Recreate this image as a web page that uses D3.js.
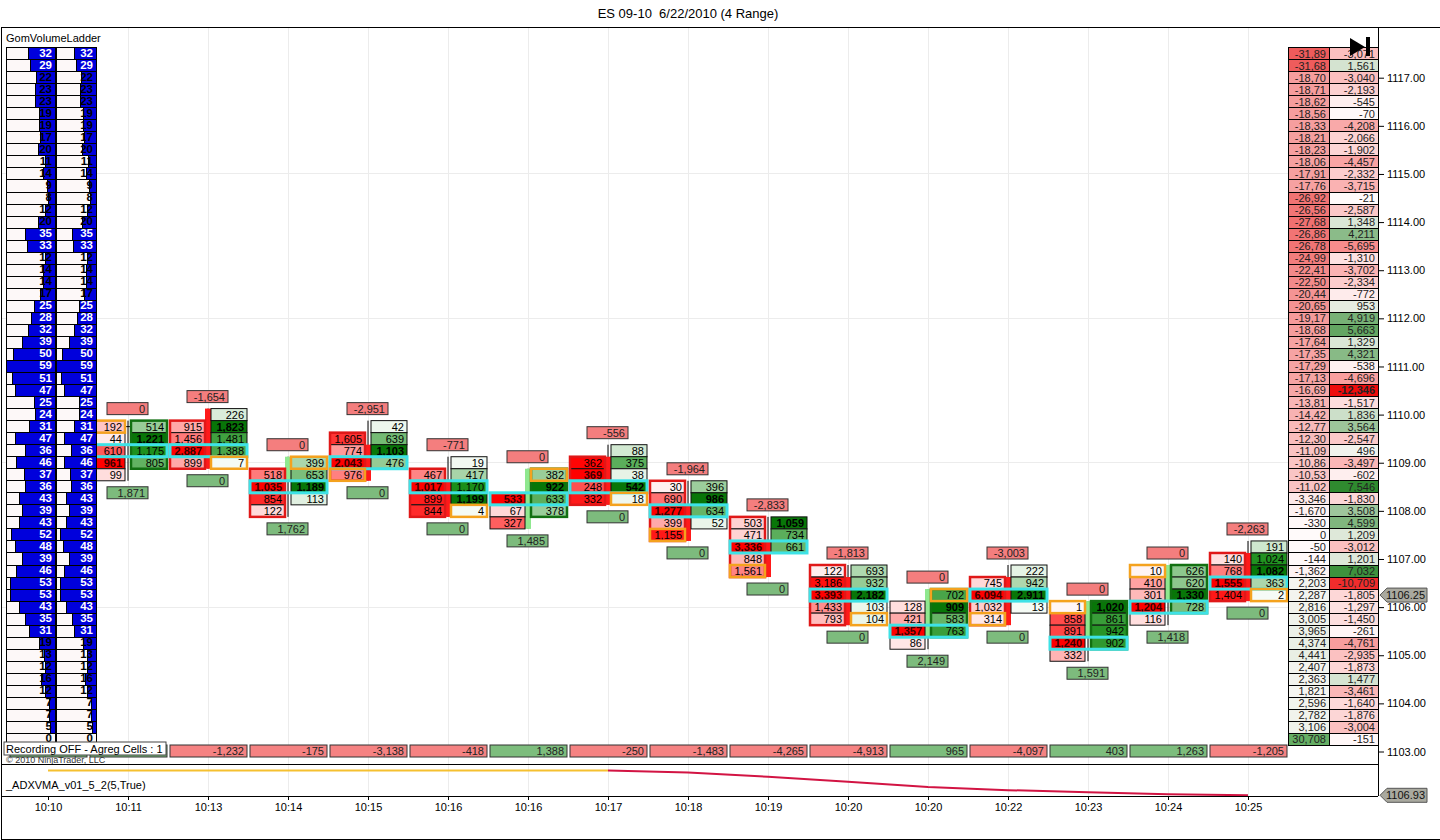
<!DOCTYPE html>
<html>
<head>
<meta charset="utf-8">
<script src="https://cdn.jsdelivr.net/npm/d3@7"></script>
<style>
  body { margin: 0; background: #fff; }
  svg { display: block; font-family: "Liberation Sans", Arial, sans-serif; }
  .axis text { font-size: 11px; fill: #000; font-family: "Liberation Sans", Arial, sans-serif; }
  .axis line { stroke: #000; }
</style>
</head>
<body>
<div id="chart"></div>
<script>
// ---- data ----
var timeLabels = ["10:10","10:11","10:13","10:14","10:15","10:16","10:16","10:17","10:18","10:19","10:20","10:20","10:22","10:23","10:24","10:25"];

// footprint bars: price of the first row, then bid / ask volume per row (0.25 steps down)
// bar 0 sits under the volume ladder, so it has no cells
var barTop = [null,1109.75,1110.00,1109.00,1109.75,1109.00,1108.75,1109.25,1108.50,1107.75,1106.75,1106.25,1106.75,1106.00,1106.75,1107.25];
var bidVol = [
  null,
  [192,44,610,961,99],
  [null,915,1456,2887,899],
  [null,518,1035,854,122],
  [null,1605,774,2043,976],
  [null,467,1017,899,844],
  [null,null,533,67,327],
  [null,362,369,248,332],
  [30,690,1277,399,1155],
  [503,471,3336,848,1561],
  [122,3186,3393,1433,793],
  [null,128,421,1357,86],
  [null,745,6094,1032,314],
  [1,858,891,1240,332],
  [10,410,301,1204,116],
  [null,140,768,1555,1404]
];
var askVol = [
  null,
  [514,1221,1175,805,null],
  [226,1823,1481,1388,7],
  [399,653,1189,113,null],
  [42,639,1103,476,null],
  [19,417,1170,1199,4],
  [382,922,633,378,null],
  [88,375,38,542,18],
  [396,986,634,52,null],
  [1059,734,661,null,null],
  [693,932,2182,103,104],
  [702,909,583,763,null],
  [222,942,2911,13,null],
  [1020,861,942,902,null],
  [626,620,1330,728,null],
  [191,1024,1082,363,2]
];
var openPx  = [null,1109.75,1110.00,1108.75,1109.25,1108.50,1107.75,1109.00,1108.00,1107.25,1106.50,1105.50,1106.50,1105.50,1106.25,1107.00];
var closePx = [null,1109.75,1109.00,1109.00,1108.75,1108.00,1108.75,1108.25,1107.50,1106.75,1105.75,1106.25,1105.75,1106.00,1106.75,1106.25];
var closeSide = [null,"bid","ask","ask","bid","ask","ask","ask","bid","bid","ask","ask","bid","bid","bid","ask"];
var deltaTop  = [null,0,-1654,0,-2951,-771,0,-556,-1964,-2833,-1813,0,-3003,0,0,-2263];
var volBottom = [null,1871,0,1762,0,0,1485,0,0,0,0,2149,0,1591,1418,0];
var barDelta  = [1150,1809,-1232,-175,-3138,-418,1388,-250,-1483,-4265,-4913,965,-4097,403,1263,-1205];

// lower panel
var adxvma = [1108.81,1108.81,1108.81,1108.81,1108.81,1108.81,1108.81,1108.81,1108.65,1108.34,1107.95,1107.56,1107.32,1107.16,1107.01,1106.93];

// volume ladders, one row per tick from 1117.50 down to 1103.25
var ladderTop = 1117.50;
var ladderVol = [32,29,22,23,23,19,19,17,20,11,14,9,8,12,20,35,33,12,14,14,17,25,28,32,39,50,59,51,47,25,24,31,47,36,46,37,36,43,39,43,52,48,39,46,53,53,43,35,31,19,13,12,16,12,7,7,5,0];
var ladderCum = ["-31,89","-31,68","-18,70","-18,71","-18,62","-18,56","-18,33","-18,21","-18,23","-18,06","-17,91","-17,76","-26,92","-26,56","-27,68","-26,86","-26,78","-24,99","-22,41","-22,50","-20,44","-20,65","-19,17","-18,68","-17,64","-17,35","-17,29","-17,13","-16,69","-13,81","-14,42","-12,77","-12,30","-11,09","-10,86","-10,53","-11,02","-3,346","-1,670","-330","0","-50","-144","-1,362","2,203","2,287","2,816","3,005","3,965","4,374","4,441","2,407","2,363","1,821","2,596","2,782","3,106","30,708"];
var ladderDelta = [-3071,1561,-3040,-2193,-545,-70,-4208,-2066,-1902,-4457,-2332,-3715,-21,-2587,1348,4211,-5695,-1310,-3702,-2334,-772,953,4919,5663,1329,4321,-538,-4696,-12346,-1517,1836,3564,-2547,496,-3497,-602,7546,-1830,3508,4599,1209,-3012,1201,7032,-10709,-1805,-1297,-1450,-261,-4761,-2935,-1873,1477,-3461,-1640,-1876,-3004,-151];

var lastPrice = 1106.25;
var lastAdx = 1106.93;

// ---- setup ----
var width = 1440, height = 840;
var svg = d3.select("#chart").append("svg")
    .attr("width", width)
    .attr("height", height);

var fmt = d3.formatLocale({decimal: ".", thousands: ",", grouping: [3], currency: ["", ""], minus: "-"}).format(",");

var x = d3.scaleLinear().domain([0, 15]).range([48, 1248]);
var y = d3.scaleLinear().domain([1103, 1117]).range([751.5, 77.7]);
var yA = d3.scaleLinear().domain([lastAdx, 1108.81]).range([795.3, 770.5]);
var rowH = y(1103) - y(1103.25);
var plotRight = 1378;

var rowTop = p => y(p) - rowH / 2;
var ladderPrice = i => ladderTop - i * 0.25;

// title
svg.append("text")
    .attr("x", 688).attr("y", 18)
    .attr("text-anchor", "middle")
    .style("font-size", "13px")
    .style("white-space", "pre")
    .text("ES 09-10  6/22/2010 (4 Range)");

// grid
var grid = svg.append("g").attr("stroke", "#ececec").attr("shape-rendering", "crispEdges");
grid.selectAll("line.v")
  .data(d3.range(1, 16))
  .enter().append("line")
    .attr("x1", d => x(d)).attr("x2", d => x(d))
    .attr("y1", 28).attr("y2", 796);
grid.selectAll("line.h")
  .data([1115, 1112, 1109, 1106])
  .enter().append("line")
    .attr("x1", 2).attr("x2", plotRight)
    .attr("y1", d => y(d)).attr("y2", d => y(d));

// ---- footprint ----
var redFill = d3.interpolateRgb("#fff6f6", "#ff0000");
var greenFill = d3.interpolateRgb("#f6fbf6", "#168c16");

var fp = svg.append("g");
d3.range(1, 16).forEach(function(b) {
  var cx = x(b);
  var bids = bidVol[b], asks = askVol[b];
  var n = Math.max(bids.length, asks.length);
  var low = barTop[b] - (n - 1) * 0.25;
  var g = fp.append("g");

  // wick + body between the two columns
  g.append("line")
      .attr("x1", cx).attr("x2", cx)
      .attr("y1", rowTop(barTop[b])).attr("y2", rowTop(low) + rowH)
      .attr("stroke", "#000");
  var up = closePx[b] >= openPx[b];
  var hi = Math.max(openPx[b], closePx[b]), lo = Math.min(openPx[b], closePx[b]);
  if (hi > lo) {
    g.append("rect")
        .attr("x", cx - 3).attr("width", 6)
        .attr("y", rowTop(hi)).attr("height", rowTop(lo) + rowH - rowTop(hi))
        .attr("fill", up ? "#8fe88f" : "#ff1a1a");
  } else {
    g.append("line")
        .attr("x1", cx - 3).attr("x2", cx + 3)
        .attr("y1", y(hi)).attr("y2", y(hi))
        .attr("stroke", "#000");
  }

  var maxBid = d3.max(bids), maxAsk = d3.max(asks);
  var cells = [];
  for (var j = 0; j < n; j++) {
    var p = barTop[b] - j * 0.25;
    if (bids[j] != null) cells.push({p: p, v: bids[j], side: "bid", max: maxBid});
    if (asks[j] != null) cells.push({p: p, v: asks[j], side: "ask", max: maxAsk});
  }
  var colX = s => s === "bid" ? cx - 38 : cx + 3;
  var colW = s => s === "bid" ? 35 : 36;

  g.selectAll("rect.cell")
    .data(cells)
    .enter().append("rect")
      .attr("x", d => colX(d.side)).attr("width", d => colW(d.side))
      .attr("y", d => rowTop(d.p)).attr("height", rowH)
      .attr("fill", d => d.side === "bid" ? redFill(d.v / d.max)
                          : (d.v === d.max ? "#087608" : greenFill(d.v / d.max)))
      .attr("stroke", "#111").attr("stroke-width", 1);
  g.selectAll("text.cell")
    .data(cells)
    .enter().append("text")
      .attr("x", d => colX(d.side) + colW(d.side) - 3)
      .attr("y", d => y(d.p)).attr("dy", "0.36em")
      .attr("text-anchor", "end")
      .style("font-size", "11px")
      .style("font-weight", d => d.v === d.max ? "bold" : "normal")
      .attr("fill", d => d.v === d.max && d.side === "bid" ? "#3a0000" : "#000")
      .text(d => fmt(d.v));

  // dominant side outline
  var sumB = d3.sum(bids), sumA = d3.sum(asks);
  var domSide = sumA >= sumB ? "ask" : "bid";
  var dom = domSide === "bid" ? bids : asks;
  var first = dom.findIndex(v => v != null);
  var last = dom.length - 1 - dom.slice().reverse().findIndex(v => v != null);
  g.append("rect")
      .attr("x", colX(domSide)).attr("width", colW(domSide))
      .attr("y", rowTop(barTop[b] - first * 0.25))
      .attr("height", (last - first + 1) * rowH)
      .attr("fill", "none")
      .attr("stroke", domSide === "bid" ? "#e01818" : "#127012")
      .attr("stroke-width", 2.5);

  // row with the most volume
  var rowTot = d3.range(n).map(j => (bids[j] || 0) + (asks[j] || 0));
  var poc = barTop[b] - d3.maxIndex(rowTot) * 0.25;
  g.append("rect")
      .attr("x", cx - 38).attr("width", 77)
      .attr("y", rowTop(poc)).attr("height", rowH)
      .attr("fill", "none").attr("stroke", "#3ee2e6").attr("stroke-width", 3);

  // close cell
  g.append("rect")
      .attr("x", colX(closeSide[b])).attr("width", colW(closeSide[b]))
      .attr("y", rowTop(closePx[b])).attr("height", rowH)
      .attr("fill", "none").attr("stroke", "#f4a21e").attr("stroke-width", 2.5);

  // boxes above and below the bar
  var boxes = [
    {v: deltaTop[b], yc: y(barTop[b]) - 18, fill: "#f47e7e"},
    {v: volBottom[b], yc: y(low) + 18, fill: "#7dbb7d"}
  ];
  g.selectAll("rect.box")
    .data(boxes)
    .enter().append("rect")
      .attr("x", cx - 21).attr("width", 41)
      .attr("y", d => d.yc - 6).attr("height", 12)
      .attr("fill", d => d.fill).attr("stroke", "#333");
  g.selectAll("text.box")
    .data(boxes)
    .enter().append("text")
      .attr("x", cx + 17).attr("y", d => d.yc).attr("dy", "0.36em")
      .attr("text-anchor", "end")
      .style("font-size", "11px")
      .attr("fill", "#222")
      .text(d => fmt(d.v));
});

// ---- bar delta row at the bottom of the main panel ----
var dRow = svg.append("g");
dRow.selectAll("rect")
  .data(barDelta)
  .enter().append("rect")
    .attr("x", (d, i) => x(i) - 38).attr("width", 77)
    .attr("y", 745).attr("height", 12)
    .attr("fill", d => d < 0 ? "#f58282" : "#7dbd7d")
    .attr("stroke", "#333");
// the first two values sit under the recording note
dRow.selectAll("text")
  .data(barDelta.map((v, i) => ({v: v, i: i})).filter(d => d.i > 1))
  .enter().append("text")
    .attr("x", d => x(d.i) + 36).attr("y", 751).attr("dy", "0.36em")
    .attr("text-anchor", "end")
    .style("font-size", "11px")
    .attr("fill", "#222")
    .text(d => fmt(d.v));

// ---- left volume ladder ----
var maxLad = d3.max(ladderVol);
var lad = svg.append("g").attr("shape-rendering", "crispEdges");
[{x0: 6, w: 49}, {x0: 56, w: 40}].forEach(function(col) {
  var gc = lad.append("g");
  gc.selectAll("rect.bg")
    .data(ladderVol)
    .enter().append("rect")
      .attr("x", col.x0).attr("width", col.w)
      .attr("y", (d, i) => rowTop(ladderPrice(i))).attr("height", rowH)
      .attr("fill", "#fdf8f8").attr("stroke", "#000");
  gc.selectAll("rect.bar")
    .data(ladderVol)
    .enter().append("rect")
      .attr("x", d => col.x0 + col.w - col.w * d / maxLad)
      .attr("width", d => col.w * d / maxLad)
      .attr("y", (d, i) => rowTop(ladderPrice(i))).attr("height", rowH)
      .attr("fill", "#0000dc").attr("stroke", "#000");
  gc.selectAll("text")
    .data(ladderVol)
    .enter().append("text")
      .attr("x", col.x0 + col.w - 3)
      .attr("y", (d, i) => y(ladderPrice(i)) - 1).attr("dy", "0.35em")
      .attr("text-anchor", "end")
      .style("font-size", "11.5px").style("font-weight", "bold")
      .style("font-family", "'Liberation Sans Narrow','Arial Narrow','Liberation Sans',sans-serif")
      .attr("fill", d => d >= 24 ? "#fff" : "#000")
      .text(d => d);
});
svg.append("text")
    .attr("x", 6).attr("y", 42)
    .style("font-size", "11px")
    .text("GomVolumeLadder");

// ---- right ladder ----
var cumNum = ladderCum.map(s => +s.replace(/,/g, "") * (/,\d\d$/.test(s) ? 10 : 1));
var cumColor = d3.scaleLinear().domain([-32000, 0, 32000]).range(["#ee5a5a", "#fffafa", "#5eab5e"]);
var dltColor = d3.scaleLinear().domain([-12346, 0, 7546]).range(["#ee0c0c", "#fffafa", "#2f8a2f"]);
var rl = svg.append("g").attr("shape-rendering", "crispEdges");
rl.selectAll("rect.c1")
  .data(cumNum)
  .enter().append("rect")
    .attr("x", 1288).attr("width", 41)
    .attr("y", (d, i) => rowTop(ladderPrice(i))).attr("height", rowH)
    .attr("fill", d => cumColor(d)).attr("stroke", "#000");
rl.selectAll("rect.c2")
  .data(ladderDelta)
  .enter().append("rect")
    .attr("x", 1329).attr("width", 49)
    .attr("y", (d, i) => rowTop(ladderPrice(i))).attr("height", rowH)
    .attr("fill", d => dltColor(d)).attr("stroke", "#000");
rl.selectAll("text.c1")
  .data(ladderCum)
  .enter().append("text")
    .attr("x", 1326)
    .attr("y", (d, i) => y(ladderPrice(i))).attr("dy", "0.36em")
    .attr("text-anchor", "end")
    .style("font-size", "11px").attr("fill", "#222")
    .text(d => d);
var maxAbs = d3.max(ladderDelta, d => Math.abs(d));
rl.selectAll("text.c2")
  .data(ladderDelta)
  .enter().append("text")
    .attr("x", 1375)
    .attr("y", (d, i) => y(ladderPrice(i))).attr("dy", "0.36em")
    .attr("text-anchor", "end")
    .style("font-size", "11px")
    .style("font-weight", d => Math.abs(d) === maxAbs ? "bold" : "normal")
    .attr("fill", "#222")
    .text(d => fmt(d));

// go-to-end button
svg.append("path").attr("d", "M1350,38 L1365,47 L1350,56 Z").attr("fill", "#000");
svg.append("rect").attr("x", 1366).attr("y", 37).attr("width", 4).attr("height", 19).attr("fill", "#000");

// ---- copyright and recording box ----
svg.append("text")
    .attr("x", 6).attr("y", 763)
    .style("font-size", "9px").attr("fill", "#333")
    .text("\u00a9 2010 NinjaTrader, LLC");
svg.append("rect")
    .attr("x", 4).attr("y", 742).attr("width", 162).attr("height", 13)
    .attr("fill", "#fff").attr("stroke", "#444");
svg.append("text")
    .attr("x", 6).attr("y", 749).attr("dy", "0.36em")
    .style("font-size", "11px")
    .text("Recording OFF - Agreg Cells : 1");

// ---- ADXVMA panel ----
var adxLine = d3.line().x(d => x(d.i)).y(d => yA(d.v));
var adxPts = adxvma.map((v, i) => ({i: i, v: v}));
svg.append("path")
    .attr("d", adxLine(adxPts.slice(0, 8)))
    .attr("fill", "none").attr("stroke", "#f5c030").attr("stroke-width", 2);
svg.append("path")
    .attr("d", adxLine(adxPts.slice(7)))
    .attr("fill", "none").attr("stroke", "#d21443").attr("stroke-width", 2);
svg.append("text")
    .attr("x", 6).attr("y", 789)
    .style("font-size", "11px")
    .text("_ADXVMA_v01_5_2(5,True)");

// ---- frame and axes ----
var frame = svg.append("g").attr("stroke", "#000").attr("shape-rendering", "crispEdges");
frame.append("line").attr("x1", 1).attr("x2", 1440).attr("y1", 27).attr("y2", 27);
frame.append("line").attr("x1", 1).attr("x2", 1).attr("y1", 27).attr("y2", 839);
frame.append("line").attr("x1", 1).attr("x2", 1440).attr("y1", 839).attr("y2", 839);
frame.append("line").attr("x1", 1).attr("x2", plotRight).attr("y1", 764).attr("y2", 764);
frame.append("line").attr("x1", 1).attr("x2", plotRight).attr("y1", 796).attr("y2", 796);
frame.append("line").attr("x1", plotRight).attr("x2", plotRight).attr("y1", 27).attr("y2", 796);

svg.append("g")
    .attr("class", "axis")
    .attr("transform", `translate(${plotRight},0)`)
    .call(d3.axisRight(y).tickValues(d3.range(1103, 1118)).tickSize(6).tickFormat(d3.format(".2f")))
    .call(g => g.select(".domain").remove());

svg.append("g")
    .attr("class", "axis")
    .attr("transform", "translate(0,796)")
    .call(d3.axisBottom(x).tickValues(d3.range(16)).tickSize(4).tickFormat(i => timeLabels[i]))
    .call(g => g.select(".domain").remove());

// price markers
function marker(yc, label) {
  svg.append("path")
      .attr("d", `M1380,${yc} L1387,${yc - 7} L1427,${yc - 7} L1427,${yc + 7} L1387,${yc + 7} Z`)
      .attr("fill", "#a9a99f").attr("stroke", "#555");
  svg.append("text")
      .attr("x", 1425).attr("y", yc).attr("dy", "0.36em")
      .attr("text-anchor", "end")
      .style("font-size", "11px").attr("fill", "#111")
      .text(label);
}
marker(y(lastPrice), d3.format(".2f")(lastPrice));
marker(yA(lastAdx), d3.format(".2f")(lastAdx));
</script>
</body>
</html>
